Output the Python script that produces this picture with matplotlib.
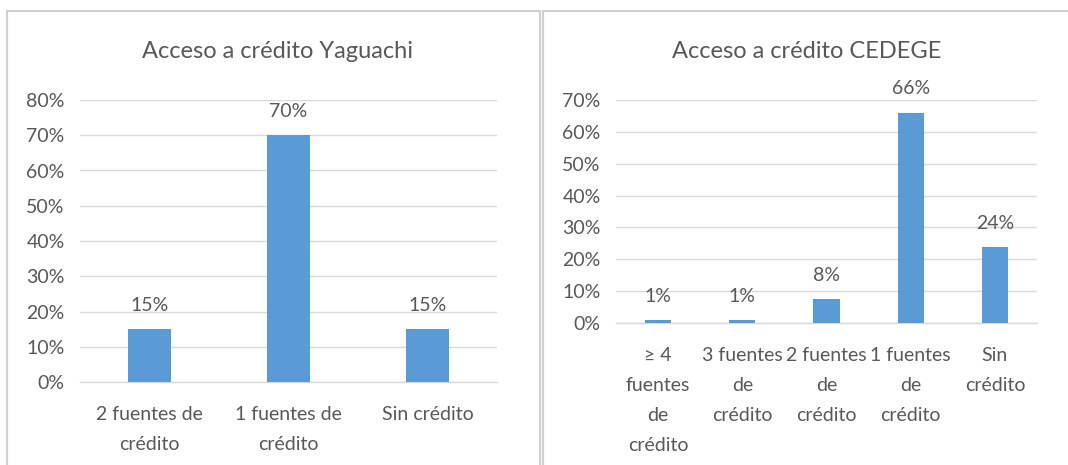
import matplotlib
matplotlib.use("Agg")
import matplotlib.pyplot as plt
from matplotlib.patches import Rectangle
from matplotlib.ticker import PercentFormatter

plt.rcParams['font.family'] = ['Lato', 'DejaVu Sans']

# Data
yag_categories = ["2 fuentes de\ncrédito", "1 fuentes de\ncrédito", "Sin crédito"]
yag_values = [0.15, 0.70, 0.15]
ced_categories = ["≥ 4\nfuentes\nde\ncrédito", "3 fuentes\nde\ncrédito",
                  "2 fuentes\nde\ncrédito", "1 fuentes\nde\ncrédito", "Sin\ncrédito"]
ced_values = [0.01, 0.01, 0.076, 0.66, 0.237]
yag_title = "Acceso a crédito Yaguachi"
ced_title = "Acceso a crédito CEDEGE"

W, H = 1068, 465
fig = plt.figure(figsize=(W / 100, H / 100), dpi=100)
fig.patch.set_facecolor("white")

BAR = "#5B9BD5"
TXT = "#595959"
GRID = "#D9D9D9"

# panel borders
fig.patches.append(Rectangle((7 / W, -0.05), (540 - 7) / W, 1 - 11 / H + 0.05,
                             transform=fig.transFigure, fill=False,
                             edgecolor="#D0D0D0", linewidth=1.5))
fig.patches.append(Rectangle((543 / W, -0.05), (1075 - 543) / W, 1 - 11 / H + 0.05,
                             transform=fig.transFigure, fill=False,
                             edgecolor="#D0D0D0", linewidth=1.5))


def panel(rect, cats, vals, ymax, title, title_x):
    ax = fig.add_axes(rect)
    x = list(range(len(cats)))
    bars = ax.bar(x, vals, width=0.31, color=BAR, zorder=3)
    ax.set_xlim(-0.5, len(cats) - 0.5)
    ax.set_ylim(0, ymax)
    ax.set_yticks([i / 10 for i in range(int(round(ymax * 10)) + 1)])
    ax.yaxis.set_major_formatter(PercentFormatter(1.0, decimals=0))
    ax.grid(axis="y", color=GRID, linewidth=1.0, zorder=0)
    for s in ["top", "right", "left"]:
        ax.spines[s].set_visible(False)
    ax.spines["bottom"].set_color(GRID)
    ax.spines["bottom"].set_linewidth(1.0)
    ax.set_xticks(x)
    ax.set_xticklabels(cats, linespacing=1.92)
    ax.tick_params(axis="both", length=0, colors=TXT, labelsize=14)
    ax.tick_params(axis="x", pad=17.5)
    ax.tick_params(axis="y", pad=11)
    for b, v in zip(bars, vals):
        ax.annotate(f"{v * 100:.0f}%", (b.get_x() + b.get_width() / 2, v),
                    xytext=(0, 11), textcoords="offset points",
                    ha="center", va="bottom", fontsize=14, color=TXT)
    fig.text(title_x / W, 1 - 52 / H, title, ha="center", va="center",
             fontsize=17, color=TXT)
    return ax


panel([80 / W, 1 - 382 / H, 417 / W, 282 / H], yag_categories, yag_values,
      0.8, yag_title, 277)
panel([616 / W, 1 - 323 / H, 421 / W, 223 / H], ced_categories, ced_values,
      0.7, ced_title, 807)

fig.savefig("out.png", dpi=100, facecolor="white")
